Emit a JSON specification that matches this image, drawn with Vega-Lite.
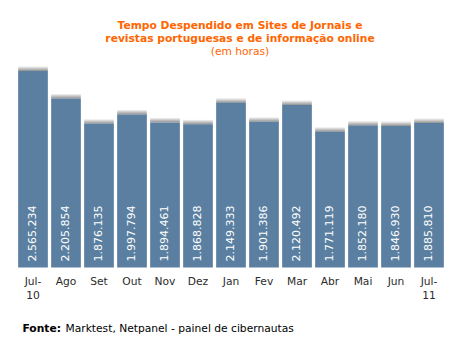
{
  "$schema": "https://vega.github.io/schema/vega-lite/v6.json",
  "width": 429,
  "height": 196.5,
  "autosize": {"type": "none"},
  "padding": {"left": 16.5, "top": 71, "right": 12.5, "bottom": 84.5},
  "background": "white",
  "title": {
    "text": ["Tempo Despendido em Sites de Jornais e", "revistas portuguesas e de informação online"],
    "subtitle": "(em horas)",
    "color": "#ff6600",
    "subtitleColor": "#ff6600",
    "font": "DejaVu Sans",
    "fontSize": 10.7,
    "fontWeight": "bold",
    "subtitleFont": "DejaVu Sans",
    "subtitleFontSize": 10.7,
    "lineHeight": 13,
    "subtitleLineHeight": 14,
    "subtitlePadding": 3,
    "anchor": "middle",
    "dx": 9,
    "offset": 8
  },
  "data": {
    "values": [
      {"month": "Jul-10", "hours": 2565234, "label": "2.565.234"},
      {"month": "Ago", "hours": 2205854, "label": "2.205.854"},
      {"month": "Set", "hours": 1876135, "label": "1.876.135"},
      {"month": "Out", "hours": 1997794, "label": "1.997.794"},
      {"month": "Nov", "hours": 1894461, "label": "1.894.461"},
      {"month": "Dez", "hours": 1868828, "label": "1.868.828"},
      {"month": "Jan", "hours": 2149333, "label": "2.149.333"},
      {"month": "Fev", "hours": 1901386, "label": "1.901.386"},
      {"month": "Mar", "hours": 2120492, "label": "2.120.492"},
      {"month": "Abr", "hours": 1771119, "label": "1.771.119"},
      {"month": "Mai", "hours": 1852180, "label": "1.852.180"},
      {"month": "Jun", "hours": 1846930, "label": "1.846.930"},
      {"month": "Jul-11", "hours": 1885810, "label": "1.885.810"}
    ]
  },
  "encoding": {
    "x": {
      "field": "month",
      "type": "nominal",
      "sort": null,
      "scale": {"paddingInner": 0.1, "paddingOuter": 0.05},
      "axis": {
        "title": "Fonte:",
        "titleFont": "DejaVu Sans",
        "titleFontWeight": "bold",
        "titleFontSize": 10.7,
        "titleColor": "#000000",
        "titleX": 5.5,
        "titleY": 63.5,
        "titleAlign": "left",
        "titleBaseline": "alphabetic",
        "labelAngle": 0,
        "labelFont": "DejaVu Sans",
        "labelFontSize": 10.7,
        "labelColor": "#2b2b2b",
        "labelPadding": 9,
        "labelLineHeight": 14,
        "labelBaseline": "top",
        "domain": false,
        "ticks": false,
        "labelExpr": "length(datum.label) > 3 ? [slice(datum.label, 0, 4), slice(datum.label, 4)] : datum.label"
      }
    },
    "y": {
      "field": "hours",
      "type": "quantitative",
      "scale": {"domain": [0, 2565234], "nice": false},
      "axis": {
        "title": "Marktest, Netpanel - painel de cibernautas",
        "titleAngle": 0,
        "titleX": 48.5,
        "titleY": 260,
        "titleAlign": "left",
        "titleBaseline": "alphabetic",
        "titleFont": "DejaVu Sans",
        "titleFontWeight": "normal",
        "titleFontSize": 10.7,
        "titleColor": "#000000",
        "labels": false,
        "ticks": false,
        "domain": false,
        "grid": false
      }
    }
  },
  "layer": [
    {
      "mark": {
        "type": "bar",
        "y2Offset": -5,
        "fill": {
          "gradient": "linear",
          "x1": 0, "y1": 1, "x2": 0, "y2": 0,
          "stops": [
            {"offset": 0, "color": "#909090"},
            {"offset": 1, "color": "#ffffff"}
          ]
        }
      },
      "encoding": {"y2": {"field": "hours"}}
    },
    {
      "mark": {"type": "bar", "color": "#5a7fa1"}
    },
    {
      "mark": {
        "type": "text",
        "angle": 270,
        "align": "left",
        "baseline": "middle",
        "dx": 6,
        "color": "white",
        "font": "DejaVu Sans",
        "fontSize": 11
      },
      "encoding": {
        "y": {"datum": 0},
        "text": {"field": "label"}
      }
    }
  ],
  "config": {"view": {"stroke": null}}
}
